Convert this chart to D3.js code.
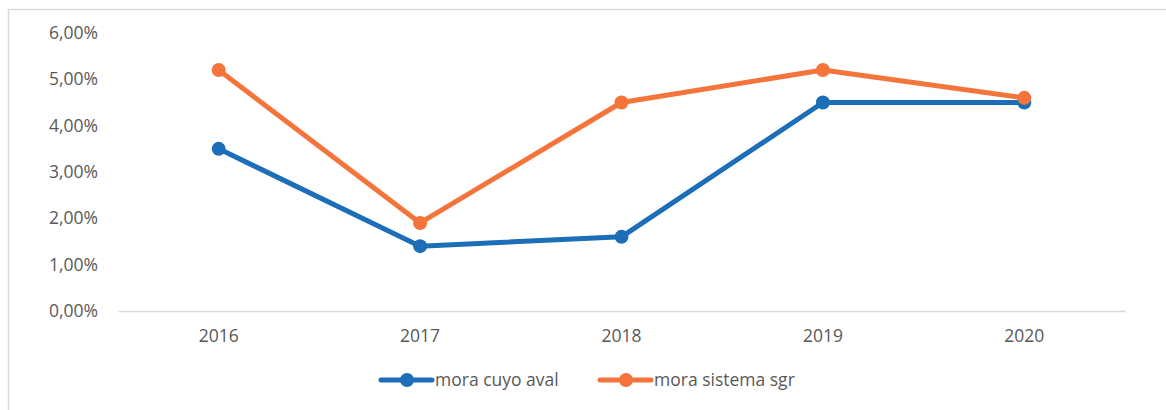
<!DOCTYPE html>
<html>
<head>
<meta charset="utf-8">
<script src="https://cdn.jsdelivr.net/npm/d3@7"></script>
<style>
  body { margin: 0; background: #fff; }
  text { font-family: "Open Sans", sans-serif; fill: #595959; }
</style>
</head>
<body>
<div id="chart"></div>
<script>
// data
const years = ["2016", "2017", "2018", "2019", "2020"];
const moraCuyoAval = [3.5, 1.4, 1.6, 4.5, 4.5];
const moraSistemaSgr = [5.2, 1.9, 4.5, 5.2, 4.6];
const yTicks = [0, 1, 2, 3, 4, 5, 6];
const seriesNames = ["mora cuyo aval", "mora sistema sgr"];

const width = 1166;
const height = 410;
const margin = {top: 33, right: 41, bottom: 99, left: 118};
const colors = ["#1b6eb7", "#f4743b"];
const fontSize = "17.5px";

const svg = d3.select("#chart")
              .append("svg")
              .attr("width", width)
              .attr("height", height);

// chart frame (right/bottom edges run off the picture)
svg.append("rect")
   .attr("x", 8.5).attr("y", 9.5)
   .attr("width", width + 20).attr("height", height + 20)
   .attr("fill", "none")
   .attr("stroke", "#d9d9d9")
   .attr("stroke-width", 1.5);

const x = d3.scaleBand()
            .domain(years)
            .range([margin.left, width - margin.right]);
const y = d3.scaleLinear()
            .domain([0, 6])
            .range([height - margin.bottom, margin.top]);

// y axis labels
const yAxis = d3.axisLeft(y)
                .tickValues(yTicks)
                .tickSize(0)
                .tickPadding(0)
                .tickFormat(d => d3.format(".2f")(d).replace(".", ",") + "%");
svg.append("g")
   .attr("transform", "translate(98,0)")
   .call(yAxis)
   .call(g => g.select(".domain").remove())
   .selectAll("text")
   .attr("font-size", fontSize)
   .style("fill", "#595959");

// x axis
const xAxis = d3.axisBottom(x).tickSize(0).tickPadding(19);
svg.append("g")
   .attr("transform", `translate(0,${y(0)})`)
   .call(xAxis)
   .call(g => g.select(".domain").attr("stroke", "#d9d9d9").attr("stroke-width", 1.5))
   .selectAll("text")
   .attr("font-size", fontSize)
   .style("fill", "#595959");

const line = d3.line()
               .x((d, i) => x(years[i]) + x.bandwidth() / 2)
               .y(d => y(d));

[moraCuyoAval, moraSistemaSgr].forEach((series, k) => {
  svg.append("path")
     .datum(series)
     .attr("d", line)
     .attr("fill", "none")
     .attr("stroke", colors[k])
     .attr("stroke-width", 5)
     .attr("stroke-linejoin", "round")
     .attr("stroke-linecap", "round");
  svg.selectAll(null).data(series).enter()
     .append("circle")
     .attr("cx", (d, i) => x(years[i]) + x.bandwidth() / 2)
     .attr("cy", d => y(d))
     .attr("r", 7)
     .attr("fill", colors[k]);
});

// legend
const legendX = [381, 600];
const legend = svg.selectAll(".legend").data(seriesNames).enter()
                  .append("g")
                  .attr("transform", (d, i) => `translate(${legendX[i]},380)`);
legend.append("line")
      .attr("x1", 0).attr("x2", 51)
      .attr("stroke", (d, i) => colors[i])
      .attr("stroke-width", 5)
      .attr("stroke-linecap", "round");
legend.append("circle")
      .attr("cx", 26).attr("r", 7)
      .attr("fill", (d, i) => colors[i]);
legend.append("text")
      .attr("x", 54).attr("dy", "0.35em")
      .attr("font-size", fontSize)
      .text(d => d);
</script>
</body>
</html>
